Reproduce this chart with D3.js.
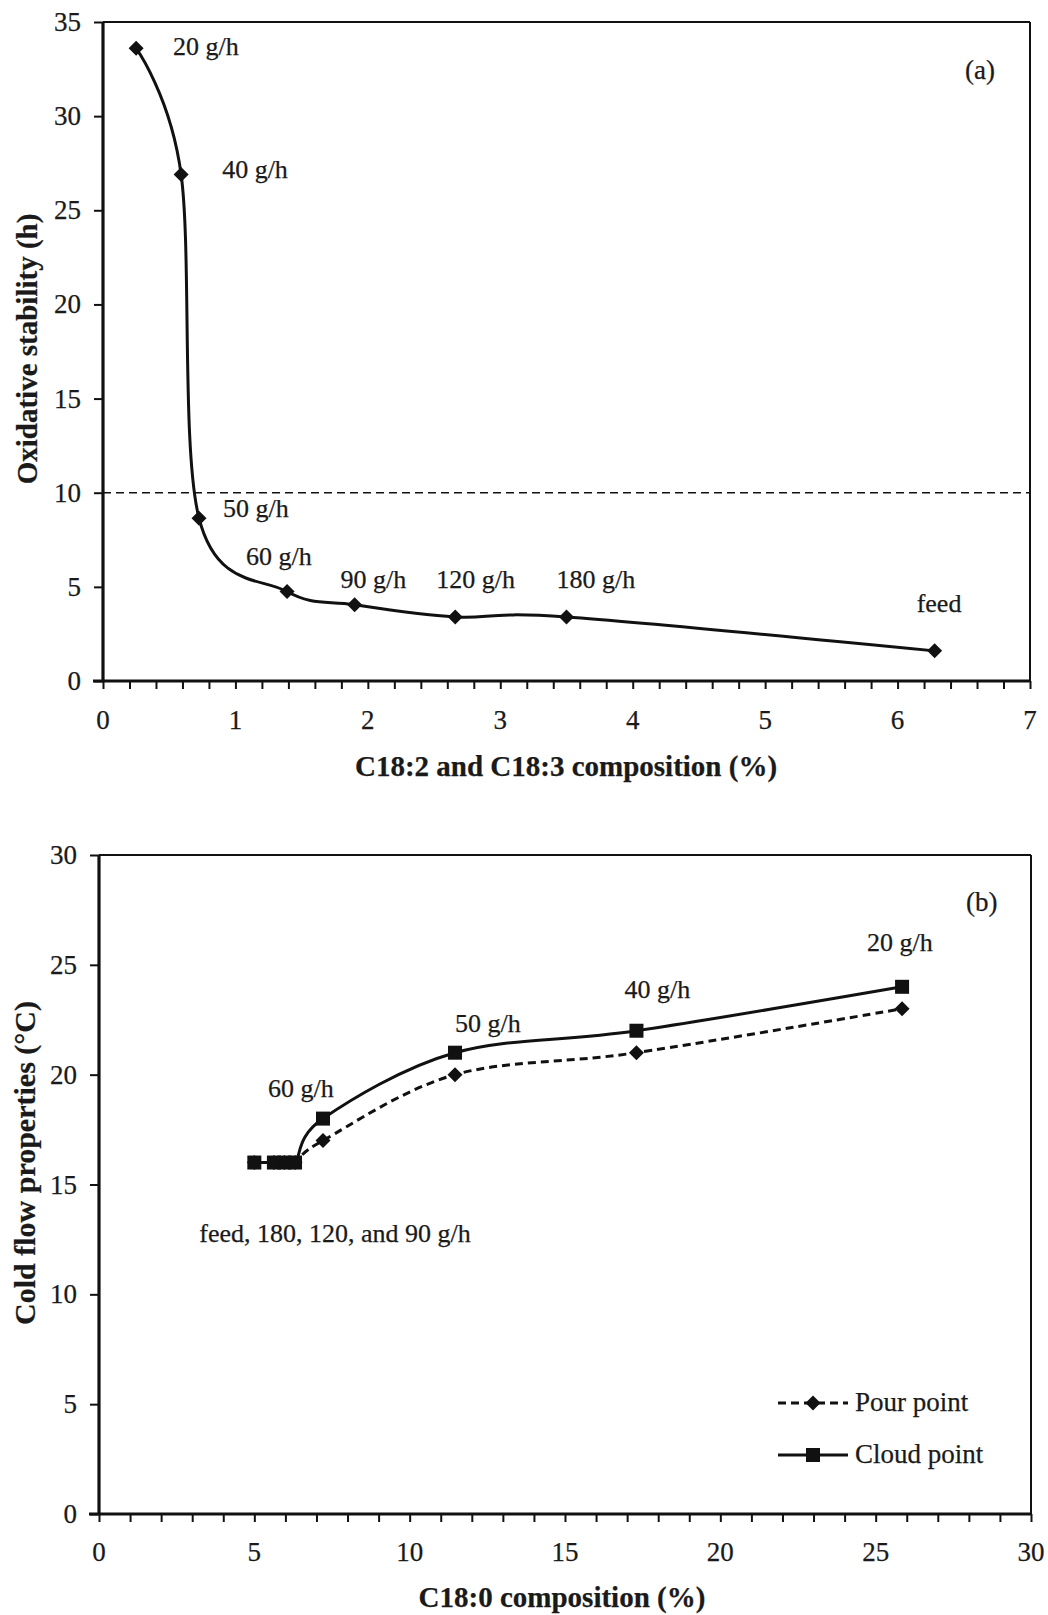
<!DOCTYPE html>
<html>
<head>
<meta charset="utf-8">
<script src="https://cdn.jsdelivr.net/npm/d3@7"></script>
<style>
  html, body { margin: 0; padding: 0; background: #fff; }
  text { font-family: "Liberation Serif", "Times New Roman", serif; fill: #1a1a1a; stroke: #1a1a1a; stroke-width: 0.25; }
</style>
</head>
<body>
<svg id="chart" width="1048" height="1615"></svg>
<script>
// ---------- DATA ----------
// Panel (a): oxidative stability vs C18:2 + C18:3 composition
const compA = [0.25, 0.59, 0.725, 1.39, 1.9, 2.66, 3.5, 6.28];
const stabilityA = [33.6, 26.9, 8.65, 4.75, 4.05, 3.4, 3.4, 1.6];
const labelsA = ["20 g/h", "40 g/h", "50 g/h", "60 g/h", "90 g/h", "120 g/h", "180 g/h", "feed"];
const thresholdA = 10;
const xTicksA = [0, 1, 2, 3, 4, 5, 6, 7];
const yTicksA = [0, 5, 10, 15, 20, 25, 30, 35];

// Panel (b): cold flow properties vs C18:0 composition
const compB = [5.0, 5.63, 5.97, 6.31, 7.21, 11.46, 17.3, 25.85];
const pourB = [16, 16, 16, 16, 17, 20, 21, 23];
const cloudB = [16, 16, 16, 16, 18, 21, 22, 24];
const labelsB = ["feed, 180, 120, and 90 g/h", "", "", "", "60 g/h", "50 g/h", "40 g/h", "20 g/h"];
const xTicksB = [0, 5, 10, 15, 20, 25, 30];
const yTicksB = [0, 5, 10, 15, 20, 25, 30];
const seriesNamesB = ["Pour point", "Cloud point"];

// ---------- LAYOUT ----------
const svg = d3.select("#chart");
const ink = "#111";

// label offsets (pixels, relative to the point)
const offA = [[37, 7], [41, 3], [24, -1], [-41, -27], [-14, -17], [-19, -29], [-10, -29], [-18, -39]];
const offB = [[-55, 79], null, null, null, [-55, -22], [0, -21], [-12, -33], [-35, -36]];

// diamond marker: a square rotated 45 degrees
const diamondPath = "M0,-7.5L7.5,0L0,7.5L-7.5,0Z";

function panel(cfg) {
  const g = svg.append("g");
  const x = d3.scaleLinear().domain(cfg.xDomain).range([cfg.left, cfg.right]);
  const y = d3.scaleLinear().domain(cfg.yDomain).range([cfg.bottom, cfg.top]);

  // frame top/right
  g.append("line").attr("x1", cfg.left).attr("x2", cfg.right).attr("y1", cfg.top).attr("y2", cfg.top)
    .attr("stroke", ink).attr("stroke-width", 2);
  g.append("line").attr("x1", cfg.right).attr("x2", cfg.right).attr("y1", cfg.top).attr("y2", cfg.bottom)
    .attr("stroke", ink).attr("stroke-width", 2);

  // x axis
  const xAxis = d3.axisBottom(x).tickValues(d3.range(cfg.xDomain[0], cfg.xDomain[1] + 1e-9, cfg.xMinor))
    .tickSize(8).tickFormat("");
  const gx = g.append("g").attr("transform", `translate(0,${cfg.bottom})`).call(xAxis);
  gx.select(".domain").attr("stroke", ink).attr("stroke-width", 3.2).attr("d", `M${cfg.left - 10},0H${cfg.right}`);
  gx.selectAll(".tick line").attr("stroke", ink).attr("stroke-width", 2);
  g.selectAll(".xlab").data(cfg.xTicks).enter().append("text")
    .attr("x", d => x(d)).attr("y", cfg.xLabelY).attr("text-anchor", "middle")
    .attr("font-size", 27).text(d => d);

  // y axis
  const yAxis = d3.axisLeft(y).tickValues(cfg.yTicks).tickSize(9).tickFormat("");
  const gy = g.append("g").attr("transform", `translate(${cfg.left},0)`).call(yAxis);
  gy.select(".domain").attr("stroke", ink).attr("stroke-width", 3.2).attr("d", `M0,${cfg.top}V${cfg.bottom}`);
  gy.selectAll(".tick line").attr("stroke", ink).attr("stroke-width", 2);
  g.selectAll(".ylab").data(cfg.yTicks).enter().append("text")
    .attr("x", cfg.left - 22).attr("y", d => y(d) + 9).attr("text-anchor", "end")
    .attr("font-size", 27).text(d => d);

  // titles
  g.append("text").attr("x", cfg.xTitleX).attr("y", cfg.xTitleY).attr("text-anchor", "middle")
    .attr("font-size", 29).attr("font-weight", "bold").text(cfg.xTitle);
  g.append("text").attr("transform", `translate(${cfg.yTitleX},${cfg.yTitleY}) rotate(-90)`)
    .attr("text-anchor", "middle").attr("font-size", cfg.yTitleSize).attr("font-weight", "bold").text(cfg.yTitle);

  // panel tag
  g.append("text").attr("x", cfg.tagX).attr("y", cfg.tagY).attr("font-size", 27).text(cfg.tag);
  return { g, x, y };
}

const curve = d3.curveCardinal.tension(0);

// ---------- PANEL (a) ----------
{
  const { g, x, y } = panel({
    left: 103, right: 1030, top: 22, bottom: 681,
    xDomain: [0, 7], yDomain: [0, 35], xMinor: 0.2,
    xTicks: xTicksA, yTicks: yTicksA, xLabelY: 729,
    xTitle: "C18:2 and C18:3 composition (%)", xTitleX: 566, xTitleY: 776,
    yTitle: "Oxidative stability (h)", yTitleX: 37, yTitleY: 349, yTitleSize: 29,
    tag: "(a)", tagX: 965, tagY: 79
  });
  // threshold
  g.append("line").attr("x1", x(0)).attr("x2", x(7)).attr("y1", y(thresholdA)).attr("y2", y(thresholdA))
    .attr("stroke", ink).attr("stroke-width", 1.4).attr("stroke-dasharray", "8,5");
  const pts = compA.map((c, i) => [c, stabilityA[i]]);
  g.append("path").datum(pts)
    .attr("d", d3.line().x(d => x(d[0])).y(d => y(d[1])).curve(curve))
    .attr("fill", "none").attr("stroke", ink).attr("stroke-width", 3);
  g.selectAll(".pa").data(pts).enter().append("path")
    .attr("transform", d => `translate(${x(d[0])},${y(d[1])})`)
    .attr("d", diamondPath).attr("fill", ink);
  g.selectAll(".la").data(pts).enter().append("text")
    .attr("x", (d, i) => x(d[0]) + offA[i][0]).attr("y", (d, i) => y(d[1]) + offA[i][1])
    .attr("font-size", 26).text((d, i) => labelsA[i]);
}

// ---------- PANEL (b) ----------
{
  const { g, x, y } = panel({
    left: 99, right: 1031, top: 855, bottom: 1514,
    xDomain: [0, 30], yDomain: [0, 30], xMinor: 1,
    xTicks: xTicksB, yTicks: yTicksB, xLabelY: 1561,
    xTitle: "C18:0 composition (%)", xTitleX: 562, xTitleY: 1607,
    yTitle: "Cold flow properties (°C)", yTitleX: 35, yTitleY: 1163, yTitleSize: 30,
    tag: "(b)", tagX: 966, tagY: 911
  });
  const pour = compB.map((c, i) => [c, pourB[i]]);
  const cloud = compB.map((c, i) => [c, cloudB[i]]);
  const line = d3.line().x(d => x(d[0])).y(d => y(d[1])).curve(curve);
  g.append("path").datum(pour).attr("d", line).attr("fill", "none")
    .attr("stroke", ink).attr("stroke-width", 3).attr("stroke-dasharray", "8,5");
  g.selectAll(".pb").data(pour).enter().append("path")
    .attr("transform", d => `translate(${x(d[0])},${y(d[1])})`)
    .attr("d", diamondPath).attr("fill", ink);
  g.append("path").datum(cloud).attr("d", line).attr("fill", "none")
    .attr("stroke", ink).attr("stroke-width", 3);
  g.selectAll(".cb").data(cloud).enter().append("rect")
    .attr("x", d => x(d[0]) - 7).attr("y", d => y(d[1]) - 7).attr("width", 14).attr("height", 14).attr("fill", ink);
  g.selectAll(".lb").data(cloud.filter((d, i) => labelsB[i])).enter().append("text")
    .attr("x", d => x(d[0]) + offB[cloud.indexOf(d)][0]).attr("y", d => y(d[1]) + offB[cloud.indexOf(d)][1])
    .attr("font-size", 26).text(d => labelsB[cloud.indexOf(d)]);

  // legend
  const lg = g.append("g");
  const rows = [{ y: 1403, dash: "8,5", sym: "diamond" }, { y: 1455, dash: null, sym: "square" }];
  rows.forEach((r, i) => {
    lg.append("line").attr("x1", 778).attr("x2", 848).attr("y1", r.y).attr("y2", r.y)
      .attr("stroke", ink).attr("stroke-width", 3).attr("stroke-dasharray", r.dash);
    if (r.sym === "diamond") {
      lg.append("path").attr("transform", `translate(813,${r.y})`).attr("d", diamondPath).attr("fill", ink);
    } else {
      lg.append("rect").attr("x", 806).attr("y", r.y - 7).attr("width", 14).attr("height", 14).attr("fill", ink);
    }
    lg.append("text").attr("x", 855).attr("y", r.y + 8).attr("font-size", 27).text(seriesNamesB[i]);
  });
}
</script>
</body>
</html>
